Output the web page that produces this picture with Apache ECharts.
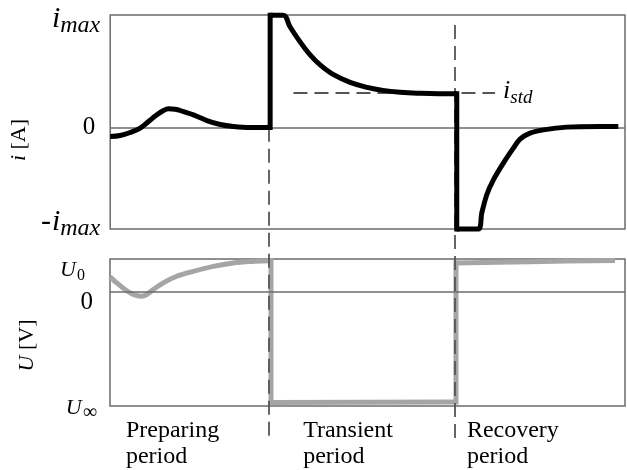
<!DOCTYPE html>
<html><head><meta charset="utf-8">
<script src="https://cdn.jsdelivr.net/npm/echarts@6/dist/echarts.min.js"></script>
<style>html,body{margin:0;padding:0;background:#fff}#c{width:627px;height:470px}</style>
</head><body><div id="c"></div>
<script>
// time axis: arbitrary units 0..100; current in units of i_max, voltage in units of U0
const prepT = [0, 1.94, 3.88, 5.83, 7.44, 9.07, 10.35, 11.32, 12.62, 14.23, 16.17, 18.78, 21.36, 23.94, 27.18, 31.07];
const prepI = [-0.089, -0.079, -0.049, -0.006, 0.059, 0.125, 0.167, 0.184, 0.181, 0.157, 0.125, 0.069, 0.030, 0.010, 0, 0];
const transT = [31.07, 33.59, 34.95, 36.89, 38.83, 40.78, 43.3, 46.6, 49.9, 53.0, 56.3, 59.6, 66.6, 67.32];
const transI = [1.106, 1.106, 0.991, 0.844, 0.716, 0.617, 0.523, 0.445, 0.396, 0.366, 0.348, 0.339, 0.332, 0.332];
const recT = [67.32, 71.52, 72.17, 73.15, 74.43, 76.37, 78.31, 79.61, 81.55, 84.14, 88.68, 95.15, 98.7];
const recI = [-1.0, -1.0, -0.843, -0.662, -0.515, -0.35, -0.203, -0.114, -0.055, -0.023, 0.004, 0.01, 0.01];
const prepUT = [0, 1.3, 2.91, 4.53, 6.15, 7.13, 8.41, 10.35, 12.95, 16.17, 20.06, 23.94, 27.83, 30.74, 31.26];
const prepU = [0.455, 0.273, 0.07, -0.082, -0.133, -0.082, 0.07, 0.273, 0.473, 0.624, 0.776, 0.879, 0.927, 0.948, 0.948];
const transUT = [31.26, 67.18];
const transU = [-3.38, -3.36];
const recUT = [67.18, 81.55, 98.06];
const recU = [0.879, 0.918, 0.958];
// levels / ticks
const iMin = -1, iMax = 1.109;
const uMin = -3.485, uMax = 1;
const iTickValues = [-1, 0, 1];
const iTickLabels = ['-imax', '0', 'imax'];
const uTickValues = [-3.485, 0, 1];
const uTickLabels = ['Uinf', '0', 'U0'];
const iStd = 0.339;
const iStdSpan = [35.6, 74.76];
const boundaryT = [30.87, 66.99];
const boundaryTop = [0, 1.011];
const boundaryBottom = -3.10;
const overlayMin = -3.123, overlayMax = 1.109;
const periodT = [3.1, 37.5, 69.3];
const periodLabels = ['Preparing\nperiod', 'Transient\nperiod', 'Recovery\nperiod'];

const SERIF = 'Liberation Serif';
const pair = (ts, vs) => ts.map((t, k) => [t, vs[k]]);
const last = a => a[a.length - 1];
const nearest = (vals, v) => { let b = 0; vals.forEach((x, k) => { if (Math.abs(x - v) < Math.abs(vals[b] - v)) b = k; }); return b; };
// vertical jumps joining the segments' ends
const jumps = (segs) => {
  const out = [];
  for (let k = 0; k + 1 < segs.length; k++) {
    const [ta, va] = segs[k], [tb, vb] = segs[k + 1];
    out.push([last(ta), last(va)], [tb[0], vb[0]], [tb[0], '-']);
  }
  return out;
};

const chart = echarts.init(document.getElementById('c'), null, {renderer: 'canvas'});
const gridBase = {left: 110, right: 2, show: true, borderColor: '#6b6b6b', borderWidth: 1.5, backgroundColor: 'transparent'};
const hiddenX = (gi, extra) => Object.assign({type: 'value', gridIndex: gi, min: 0, max: 100,
  axisLine: {show: false}, axisTick: {show: false}, splitLine: {show: false}, axisLabel: {show: false}}, extra || {});
const curve = (xi, data, color, smooth, z, extra) => Object.assign({type: 'line', xAxisIndex: xi, yAxisIndex: xi, data: data, z: z, clip: false,
  showSymbol: false, symbol: 'none', smooth: smooth, connectNulls: false, silent: true,
  lineStyle: {color: color, width: 5, join: 'round', cap: 'butt'}}, extra || {});
const BLACK = '#000', GREY = '#a5a5a5';

const option = {
  animation: false,
  backgroundColor: '#fff',
  grid: [
    Object.assign({top: 15, height: 214}, gridBase),
    Object.assign({top: 259, height: 148}, gridBase),
    {left: 110, right: 2, top: 15, height: 430, show: false}
  ],
  xAxis: [
    hiddenX(0),
    hiddenX(1, {axisLabel: {show: true, customValues: periodT, align: 'left', verticalAlign: 'top', margin: 12,
      fontFamily: SERIF, fontSize: 24, lineHeight: 26, color: '#000',
      formatter: v => periodLabels[nearest(periodT, v)]}}),
    hiddenX(2)
  ],
  yAxis: [
    {type: 'value', gridIndex: 0, min: iMin, max: iMax, splitLine: {show: false}, axisLine: {show: false}, axisTick: {show: false},
      name: '{it|i} [A]', nameLocation: 'middle', nameGap: 72, nameRotate: 90,
      nameTextStyle: {fontFamily: SERIF, fontSize: 22, color: '#000', padding: [0, 36, 0, 0], rich: {it: {fontFamily: SERIF, fontStyle: 'italic', fontSize: 22, color: '#000'}}},
      axisLabel: {customValues: iTickValues, margin: 10, color: '#000', fontFamily: SERIF,
        formatter: v => {
          const s = iTickLabels[nearest(iTickValues, v)];
          if (s === 'imax') return '{i|i}{sub|max}';
          if (s === '-imax') return '{n|-}{i|i}{sub|max}';
          return '{z|' + s + '}';
        },
        rich: {
          i: {fontFamily: SERIF, fontStyle: 'italic', fontSize: 30, color: '#000', verticalAlign: 'bottom', padding: [0, 0, 13, 0]},
          n: {fontFamily: SERIF, fontSize: 30, color: '#000', verticalAlign: 'bottom', padding: [0, 1, 13, 0]},
          sub: {fontFamily: SERIF, fontStyle: 'italic', fontSize: 24, color: '#000', verticalAlign: 'bottom', padding: [0, 0, 10, 0]},
          z: {fontFamily: SERIF, fontSize: 25, color: '#000', verticalAlign: 'bottom', padding: [0, 5, 0, 0]}
        }}},
    {type: 'value', gridIndex: 1, min: uMin, max: uMax, splitLine: {show: false}, axisLine: {show: false}, axisTick: {show: false},
      name: '{it|U} [V]', nameLocation: 'middle', nameGap: 72, nameRotate: 90,
      nameTextStyle: {fontFamily: SERIF, fontSize: 22, color: '#000', padding: [0, 26, 0, 0], rich: {it: {fontFamily: SERIF, fontStyle: 'italic', fontSize: 22, color: '#000'}}},
      axisLabel: {customValues: uTickValues, margin: 10, color: '#000', fontFamily: SERIF,
        formatter: v => {
          const s = uTickLabels[nearest(uTickValues, v)];
          if (s === 'Uinf') return '{U|U}{inf|∞}';
          if (s === 'U0') return '{Ut|U}{s0|0}';
          return '{z0|0}';
        },
        rich: {
          U: {fontFamily: SERIF, fontStyle: 'italic', fontSize: 22, color: '#000', verticalAlign: 'bottom', padding: [8, 1, 3, 0]},
          inf: {fontFamily: SERIF, fontSize: 20, color: '#000', verticalAlign: 'bottom', padding: [0, 3, 0, 0]},
          Ut: {fontFamily: SERIF, fontStyle: 'italic', fontSize: 22, color: '#000', verticalAlign: 'bottom', padding: [25, 1, 3, 0]},
          s0: {fontFamily: SERIF, fontSize: 16, color: '#000', verticalAlign: 'bottom', padding: [0, 15, 0, 0]},
          z0: {fontFamily: SERIF, fontSize: 25, color: '#000', verticalAlign: 'bottom', padding: [22, 7, 0, 0]}
        }}},
    {type: 'value', gridIndex: 2, min: overlayMin, max: overlayMax, show: false}
  ],
  series: [
    {type: 'line', xAxisIndex: 0, yAxisIndex: 0, data: [], z: 1, silent: true,
      markLine: {silent: true, symbol: 'none', label: {show: false}, lineStyle: {color: '#6b6b6b', width: 1.5, type: 'solid'},
        data: [{yAxis: 0}, [{coord: [iStdSpan[0], iStd], lineStyle: {color: '#555', width: 1.8, type: [14, 7]},
          label: {show: true, position: 'end', distance: 8, formatter: '{i|i}{s|std}',
            rich: {i: {fontFamily: SERIF, fontStyle: 'italic', fontSize: 26, color: '#000', verticalAlign: 'bottom', padding: [0, 0, 3, 0]},
                   s: {fontFamily: SERIF, fontStyle: 'italic', fontSize: 19, color: '#000', verticalAlign: 'bottom'}}}},
          {coord: [iStdSpan[1], iStd]}]]}},
    {type: 'line', xAxisIndex: 1, yAxisIndex: 1, data: [], z: 1, silent: true,
      markLine: {silent: true, symbol: 'none', label: {show: false}, lineStyle: {color: '#6b6b6b', width: 1.5, type: 'solid'},
        data: [{yAxis: 0}]}},
    {type: 'line', xAxisIndex: 2, yAxisIndex: 2, data: [], z: 1, silent: true,
      markLine: {silent: true, symbol: 'none', label: {show: false}, lineStyle: {color: '#555', width: 1.8, type: [14, 7]},
        data: boundaryT.map((t, k) => [{coord: [t, boundaryTop[k]]}, {coord: [t, boundaryBottom]}])}},
    // current (black)
    curve(0, pair(prepT, prepI), BLACK, 0.35, 5),
    curve(0, pair(transT, transI), BLACK, 0.4, 5),
    curve(0, pair(recT, recI), BLACK, 0.3, 5),
    curve(0, jumps([[prepT, prepI], [transT, transI], [recT, recI]]), BLACK, false, 5, {lineStyle: {color: BLACK, width: 5, cap: 'square', join: 'miter'}}),
    // voltage (grey)
    curve(1, pair(prepUT, prepU), GREY, 0.3, 4),
    curve(1, pair(transUT, transU), GREY, false, 4),
    curve(1, pair(recUT, recU), GREY, 0.3, 4),
    curve(1, jumps([[prepUT, prepU], [transUT, transU], [recUT, recU]]), GREY, false, 4, {lineStyle: {color: GREY, width: 5, cap: 'square', join: 'miter'}})
  ]
};
chart.setOption(option);
</script></body></html>
